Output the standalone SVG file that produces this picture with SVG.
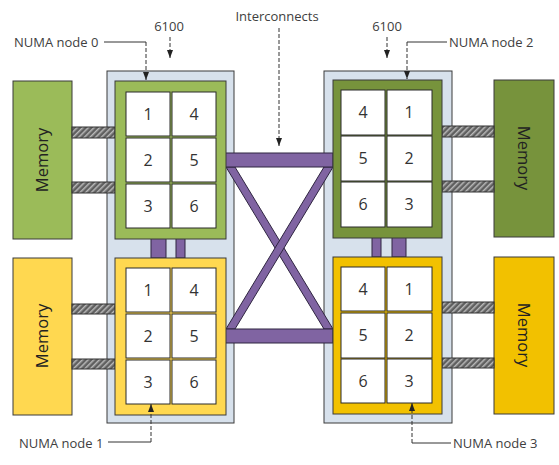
<svg xmlns="http://www.w3.org/2000/svg" width="559" height="465" viewBox="0 0 559 465">
<style>
.pkg{fill:#D7E1EC;stroke:#3a3a3a;stroke-width:1}
.g1{fill:#9BBB59;stroke:#3a3a3a;stroke-width:1}
.g2{fill:#77933C;stroke:#3a3a3a;stroke-width:1}
.y1{fill:#FFD850;stroke:#3a3a3a;stroke-width:1}
.y2{fill:#F2C100;stroke:#3a3a3a;stroke-width:1}
.cell{fill:#ffffff;stroke:#2a2a2a;stroke-width:1}
.num{font-family:"Open Sans","Liberation Sans",sans-serif;font-size:16px;fill:#333;text-anchor:middle}
.mem{font-family:"Open Sans","Liberation Sans",sans-serif;font-size:16.5px;fill:#222;text-anchor:middle}
.lbl{font-family:"Open Sans","Liberation Sans",sans-serif;font-size:13px;fill:#404040}
.hatch{fill:url(#hp);stroke:#333;stroke-width:1}
.pur{fill:#8064A2;stroke:#2e2440;stroke-width:1}
.lead{fill:none;stroke:#333;stroke-width:1}
.dash{fill:none;stroke:#333;stroke-width:1;stroke-dasharray:4 2}
</style>
<defs>
<pattern id="hp" width="4" height="4" patternUnits="userSpaceOnUse" patternTransform="rotate(45)">
<rect width="4" height="4" fill="#5f5f5f"/>
<rect width="1.5" height="4" fill="#b8b8b8"/>
</pattern>
<marker id="ah" viewBox="0 0 8 6" refX="8" refY="3" markerWidth="8" markerHeight="6" markerUnits="userSpaceOnUse" orient="auto">
<path d="M0,0 L8,3 L0,6 z" fill="#222"/>
</marker>
</defs>

<g id="packages">
<rect class="pkg" x="107" y="71" width="127" height="352"/>
<rect class="pkg" x="324" y="71" width="128" height="352"/>
</g>

<g id="memory0"><rect class="g1" x="13" y="81" width="59" height="158"/><text class="mem" transform="translate(48,160) rotate(-90)">Memory</text></g>
<g id="memory1"><rect class="y1" x="13" y="258" width="59" height="157"/><text class="mem" transform="translate(48,336) rotate(-90)">Memory</text></g>
<g id="memory2"><rect class="g2" x="494" y="80" width="60" height="157"/><text class="mem" transform="translate(518,158) rotate(90)">Memory</text></g>
<g id="memory3"><rect class="y2" x="494" y="257" width="60" height="157"/><text class="mem" transform="translate(518,335) rotate(90)">Memory</text></g>

<g id="connectors">
<rect class="hatch" x="72" y="127" width="43" height="11"/>
<rect class="hatch" x="72" y="182" width="43" height="11"/>
<rect class="hatch" x="72" y="304" width="43" height="10"/>
<rect class="hatch" x="72" y="359" width="43" height="10"/>
<rect class="hatch" x="442" y="126" width="52" height="11"/>
<rect class="hatch" x="442" y="181" width="52" height="11"/>
<rect class="hatch" x="442" y="302" width="52" height="11"/>
<rect class="hatch" x="442" y="358" width="52" height="10"/>
<rect class="pur" x="151" y="238" width="15" height="20"/>
<rect class="pur" x="176" y="238" width="9" height="20"/>
<rect class="pur" x="372" y="237" width="9" height="20"/>
<rect class="pur" x="392" y="237" width="14" height="20"/>
<polygon class="pur" points="226,167 235,167 333,329 324,329"/>
<polygon class="pur" points="324,167 333,167 235,329 226,329"/>
<rect class="pur" x="225" y="153" width="108" height="14"/>
<rect class="pur" x="225" y="329" width="108" height="14"/>
</g>

<g id="node0">
<rect class="g1" x="115" y="81" width="111" height="158"/>
<rect class="cell" x="126" y="92" width="44" height="44"/><rect class="cell" x="172" y="92" width="44" height="44"/>
<rect class="cell" x="126" y="138" width="44" height="44"/><rect class="cell" x="172" y="138" width="44" height="44"/>
<rect class="cell" x="126" y="184" width="44" height="44"/><rect class="cell" x="172" y="184" width="44" height="44"/>
<text class="num" x="148" y="120">1</text><text class="num" x="194" y="120">4</text>
<text class="num" x="148" y="166">2</text><text class="num" x="194" y="166">5</text>
<text class="num" x="148" y="212">3</text><text class="num" x="194" y="212">6</text>
</g>

<g id="node1">
<rect class="y1" x="115" y="258" width="111" height="157"/>
<rect class="cell" x="126" y="268" width="44" height="44"/><rect class="cell" x="172" y="268" width="44" height="44"/>
<rect class="cell" x="126" y="314" width="44" height="44"/><rect class="cell" x="172" y="314" width="44" height="44"/>
<rect class="cell" x="126" y="360" width="44" height="44"/><rect class="cell" x="172" y="360" width="44" height="44"/>
<text class="num" x="148" y="296">1</text><text class="num" x="194" y="296">4</text>
<text class="num" x="148" y="342">2</text><text class="num" x="194" y="342">5</text>
<text class="num" x="148" y="388">3</text><text class="num" x="194" y="388">6</text>
</g>

<g id="node2">
<rect class="g2" x="333" y="80" width="109" height="158"/>
<rect class="cell" x="341" y="90" width="44" height="45"/><rect class="cell" x="387" y="90" width="45" height="45"/>
<rect class="cell" x="341" y="136" width="44" height="45"/><rect class="cell" x="387" y="136" width="45" height="45"/>
<rect class="cell" x="341" y="182" width="44" height="45"/><rect class="cell" x="387" y="182" width="45" height="45"/>
<text class="num" x="363" y="118">4</text><text class="num" x="409" y="118">1</text>
<text class="num" x="363" y="164">5</text><text class="num" x="409" y="164">2</text>
<text class="num" x="363" y="210">6</text><text class="num" x="409" y="210">3</text>
</g>

<g id="node3">
<rect class="y2" x="333" y="257" width="109" height="157"/>
<rect class="cell" x="341" y="267" width="44" height="44"/><rect class="cell" x="387" y="267" width="45" height="44"/>
<rect class="cell" x="341" y="313" width="44" height="45"/><rect class="cell" x="387" y="313" width="45" height="45"/>
<rect class="cell" x="341" y="359" width="44" height="44"/><rect class="cell" x="387" y="359" width="45" height="44"/>
<text class="num" x="363" y="295">4</text><text class="num" x="409" y="295">1</text>
<text class="num" x="363" y="341">5</text><text class="num" x="409" y="341">2</text>
<text class="num" x="363" y="387">6</text><text class="num" x="409" y="387">3</text>
</g>

<g id="labels">
<text class="lbl" x="277" y="21" text-anchor="middle">Interconnects</text>
<path class="dash" d="M279,28 V146" marker-end="url(#ah)"/>
<text class="lbl" x="169" y="31" text-anchor="middle">6100</text>
<path class="dash" d="M170,37 V58" marker-end="url(#ah)"/>
<text class="lbl" x="387" y="31" text-anchor="middle">6100</text>
<path class="dash" d="M387,37 V58" marker-end="url(#ah)"/>
<text class="lbl" x="14" y="47">NUMA node 0</text>
<path class="lead" d="M104,42 H146"/>
<path class="dash" d="M146,42 V80" marker-end="url(#ah)"/>
<text class="lbl" x="449" y="47">NUMA node 2</text>
<path class="lead" d="M447,42 H407"/>
<path class="dash" d="M407,42 V79" marker-end="url(#ah)"/>
<text class="lbl" x="19" y="448">NUMA node 1</text>
<path class="lead" d="M108,442 H151"/>
<path class="dash" d="M151,442 V404" marker-end="url(#ah)"/>
<text class="lbl" x="453" y="448">NUMA node 3</text>
<path class="lead" d="M451,443 H412"/>
<path class="dash" d="M412,443 V403" marker-end="url(#ah)"/>
</g>
</svg>
